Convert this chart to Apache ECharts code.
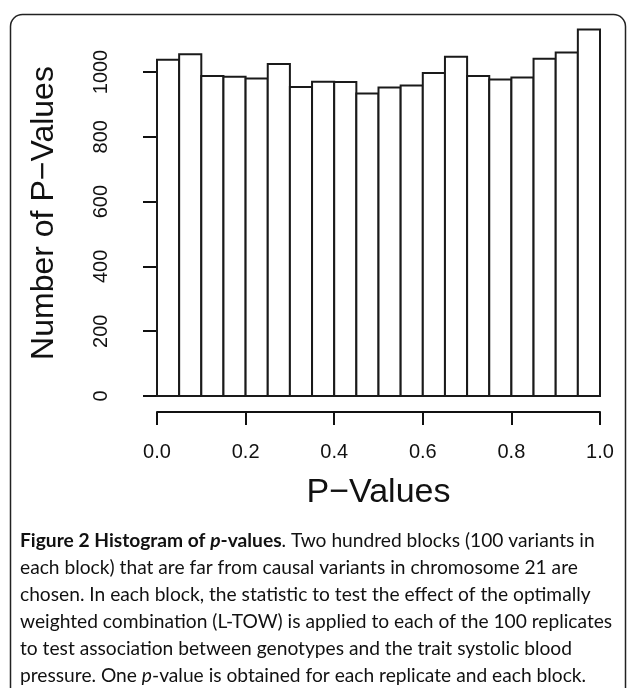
<!DOCTYPE html>
<html>
<head>
<meta charset="utf-8">
<script src="https://cdn.jsdelivr.net/npm/echarts@6/dist/echarts.min.js"></script>
<style>
  html, body { margin: 0; padding: 0; background: #fff; }
  #chart { width: 630px; height: 688px; }
</style>
</head>
<body>
<div id="chart"></div>
<script>
// histogram bins (left/right edges) and counts
const binLeft  = [0.00, 0.05, 0.10, 0.15, 0.20, 0.25, 0.30, 0.35, 0.40, 0.45,
                  0.50, 0.55, 0.60, 0.65, 0.70, 0.75, 0.80, 0.85, 0.90, 0.95];
const binRight = [0.05, 0.10, 0.15, 0.20, 0.25, 0.30, 0.35, 0.40, 0.45, 0.50,
                  0.55, 0.60, 0.65, 0.70, 0.75, 0.80, 0.85, 0.90, 0.95, 1.00];
const counts   = [1038, 1055, 988, 985, 980, 1025, 954, 970, 969, 934,
                  952, 958, 997, 1047, 988, 977, 983, 1041, 1060, 1131];

const xTicks = [0.0, 0.2, 0.4, 0.6, 0.8, 1.0];
const yTicks = [0, 200, 400, 600, 800, 1000];

const captionLines = [
  '{b|Figure 2 Histogram of }{bi|p}{b|-values}. Two hundred blocks (100 variants in',
  'each block) that are far from causal variants in chromosome 21 are',
  'chosen. In each block, the statistic to test the effect of the optimally',
  'weighted combination (L-TOW) is applied to each of the 100 replicates',
  'to test association between genotypes and the trait systolic blood',
  'pressure. One {i|p}-value is obtained for each replicate and each block.'
];

const chart = echarts.init(document.getElementById('chart'));

const plotFont = 'Liberation Sans';
const capFont = 'Lato';
const capSize = 19.2;

const histData = counts.map((c, i) => [binLeft[i], binRight[i], c]);

const captionGraphics = captionLines.map((t, i) => ({
  type: 'text',
  left: 20,
  top: 531 + i * 27,
  style: {
    text: t,
    fill: '#111',
    font: capSize + 'px ' + capFont,
    rich: {
      b: { fontFamily: capFont, fontSize: capSize, fontWeight: 'bold', fill: '#111' },
      bi: { fontFamily: capFont, fontSize: capSize, fontWeight: 'bold', fontStyle: 'italic', fill: '#111' },
      i: { fontFamily: capFont, fontSize: capSize, fontStyle: 'italic', fill: '#111' }
    }
  }
}));

chart.setOption({
  animation: false,
  backgroundColor: '#fff',
  grid: { left: 157, right: 30, top: 72, bottom: 292 },
  xAxis: {
    type: 'value',
    min: 0, max: 1, interval: 0.2,
    offset: 16,
    name: 'P\u2212Values',
    nameLocation: 'middle',
    nameGap: 64,
    nameTextStyle: { fontFamily: plotFont, fontSize: 34, color: '#111' },
    axisLine: { show: true, onZero: false, lineStyle: { color: '#111', width: 2 } },
    axisTick: { show: true, length: 13, lineStyle: { color: '#111', width: 2 } },
    axisLabel: {
      margin: 30,
      fontFamily: plotFont, fontSize: 20, color: '#111',
      customValues: xTicks,
      formatter: v => v.toFixed(1)
    },
    splitLine: { show: false }
  },
  yAxis: {
    type: 'value',
    min: 0, max: 1000, interval: 200,
    offset: 18,
    name: 'Number of P\u2212Values',
    nameLocation: 'middle',
    nameGap: 79,
    nameTextStyle: { fontFamily: plotFont, fontSize: 32, color: '#111', padding: [0, 0, 0, 42] },
    axisLine: { show: true, lineStyle: { color: '#111', width: 2 } },
    axisTick: { show: true, length: 14, lineStyle: { color: '#111', width: 2 } },
    axisLabel: {
      rotate: 90,
      margin: 28,
      fontFamily: plotFont, fontSize: 20, color: '#111',
      customValues: yTicks,
      formatter: v => String(v)
    },
    splitLine: { show: false }
  },
  series: [{
    type: 'custom',
    clip: false,
    data: histData,
    encode: { x: [0, 1], y: 2 },
    renderItem: function (params, api) {
      const top = api.coord([api.value(0), api.value(2)]);
      const bottom = api.coord([api.value(1), 0]);
      return {
        type: 'rect',
        shape: { x: top[0], y: top[1], width: bottom[0] - top[0], height: bottom[1] - top[1] },
        style: { fill: '#fff', stroke: '#1a1a1a', lineWidth: 2 }
      };
    }
  }],
  graphic: [
    {
      type: 'rect',
      left: 8, top: 12,
      shape: { width: 615, height: 720, r: 12 },
      style: { fill: 'none', stroke: '#222', lineWidth: 1.5 },
      z: -1
    }
  ].concat(captionGraphics)
});
</script>
</body>
</html>
